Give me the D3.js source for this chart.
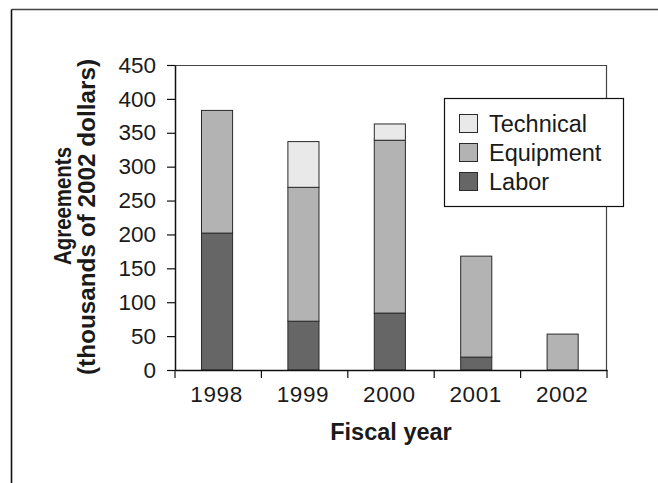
<!DOCTYPE html>
<html>
<head>
<meta charset="utf-8">
<script src="https://cdn.jsdelivr.net/npm/d3@7"></script>
<style>
  html, body { margin: 0; padding: 0; background: #fff; }
  svg { display: block; font-family: "Liberation Sans", Arial, Helvetica, sans-serif; }
</style>
</head>
<body>
<svg id="chart" width="658" height="483"></svg>
<script>
const years = ["1998", "1999", "2000", "2001", "2002"];
const labor = [202, 72, 84, 19, 0];
const equipment = [181, 197.5, 255, 149, 53];
const technical = [0, 67.5, 24, 0, 0];
const seriesNames = ["Labor", "Equipment", "Technical"];
const seriesColors = ["#666666", "#b3b3b3", "#e9e9e9"];
const yTicks = [0, 50, 100, 150, 200, 250, 300, 350, 400, 450];

const svg = d3.select("#chart");
const m = { left: 175, right: 607, top: 65, bottom: 370 };

// outer frame (top + left edges)
svg.append("line").attr("x1", 11.5).attr("x2", 658).attr("y1", 9.5).attr("y2", 9.5)
  .attr("stroke", "#444").attr("stroke-width", 1.6);
svg.append("line").attr("x1", 11.5).attr("x2", 11.5).attr("y1", 9.5).attr("y2", 483)
  .attr("stroke", "#111").attr("stroke-width", 1.6);

const x = d3.scaleBand().domain(years).range([m.left, m.right])
  .paddingInner(0.64).paddingOuter(0.32).align(0.47);
const y = d3.scaleLinear().domain([0, 450]).range([m.bottom, m.top]);

// plot frame top & right
svg.append("line").attr("x1", m.left).attr("x2", m.right).attr("y1", m.top + 0.5).attr("y2", m.top + 0.5)
  .attr("stroke", "#444").attr("stroke-width", 1.2);
svg.append("line").attr("x1", m.right - 0.5).attr("x2", m.right - 0.5).attr("y1", m.top).attr("y2", m.bottom)
  .attr("stroke", "#444").attr("stroke-width", 1.2);

// stacked data
const table = years.map((yr, i) => ({ year: yr, Labor: labor[i], Equipment: equipment[i], Technical: technical[i] }));
const stack = d3.stack().keys(seriesNames)(table);

const g = svg.append("g");
stack.forEach((layer, si) => {
  g.selectAll(null).data(layer.filter(d => d[1] - d[0] > 0)).enter().append("rect")
    .attr("x", d => x(d.data.year) + 0.5)
    .attr("width", x.bandwidth())
    .attr("y", d => y(d[1]))
    .attr("height", d => y(d[0]) - y(d[1]))
    .attr("fill", seriesColors[si])
    .attr("stroke", "#2a2a2a")
    .attr("stroke-width", 1);
});

// y axis
const yAxis = svg.append("g").attr("transform", `translate(${m.left},0)`)
  .call(d3.axisLeft(y).tickValues(yTicks).tickSize(8).tickSizeOuter(0).tickPadding(11));
yAxis.select(".domain").attr("stroke", "#111").attr("stroke-width", 1.5);
yAxis.selectAll(".tick line").attr("stroke", "#111").attr("stroke-width", 1.2);
yAxis.selectAll("text").attr("font-size", 22.5).attr("fill", "#1a1a1a")
  .attr("font-family", "Liberation Sans, Arial, sans-serif");

// x axis
const xAxis = svg.append("g").attr("transform", `translate(0,${m.bottom})`)
  .call(d3.axisBottom(x).tickSize(0).tickPadding(16));
xAxis.select(".domain").attr("stroke", "#111").attr("stroke-width", 1.5);
xAxis.selectAll("text").attr("font-size", 22.5).attr("fill", "#1a1a1a").attr("letter-spacing", 0.6)
  .attr("font-family", "Liberation Sans, Arial, sans-serif");
const bounds = d3.range(years.length + 1).map(i => m.left + i * x.step());
xAxis.selectAll(".bound").data(bounds).enter().append("line")
  .attr("x1", d => d).attr("x2", d => d).attr("y1", 0).attr("y2", 8)
  .attr("stroke", "#111").attr("stroke-width", 1.2);

// axis titles
svg.append("text").attr("x", (m.left + m.right) / 2).attr("y", 440)
  .attr("text-anchor", "middle").attr("font-size", 23.5).attr("font-weight", "bold").attr("fill", "#1a1a1a")
  .text("Fiscal year");
const yt = svg.append("text").attr("transform", `translate(71,217) rotate(-90)`)
  .attr("text-anchor", "middle").attr("font-size", 23).attr("font-weight", "bold").attr("fill", "#1a1a1a");
yt.append("tspan").attr("x", 11).attr("dy", 0)
  .attr("textLength", 118).attr("lengthAdjust", "spacingAndGlyphs").text("Agreements");
yt.append("tspan").attr("x", 0).attr("dy", 24)
  .attr("textLength", 316).attr("lengthAdjust", "spacingAndGlyphs").text("(thousands of 2002 dollars)");

// legend
const leg = svg.append("g");
leg.append("rect").attr("x", 444.5).attr("y", 98.5).attr("width", 179).attr("height", 108)
  .attr("fill", "#fff").attr("stroke", "#111").attr("stroke-width", 1.2);
const legendOrder = ["Technical", "Equipment", "Labor"];
legendOrder.forEach((name, i) => {
  const cy = 123.5 + i * 29;
  leg.append("rect").attr("x", 459.5).attr("y", cy - 9).attr("width", 18).attr("height", 18)
    .attr("fill", seriesColors[seriesNames.indexOf(name)]).attr("stroke", "#2a2a2a").attr("stroke-width", 1);
  leg.append("text").attr("x", 489).attr("y", cy + 8.5).attr("font-size", 23.5).attr("fill", "#1a1a1a")
    .text(name);
});
</script>
</body>
</html>
